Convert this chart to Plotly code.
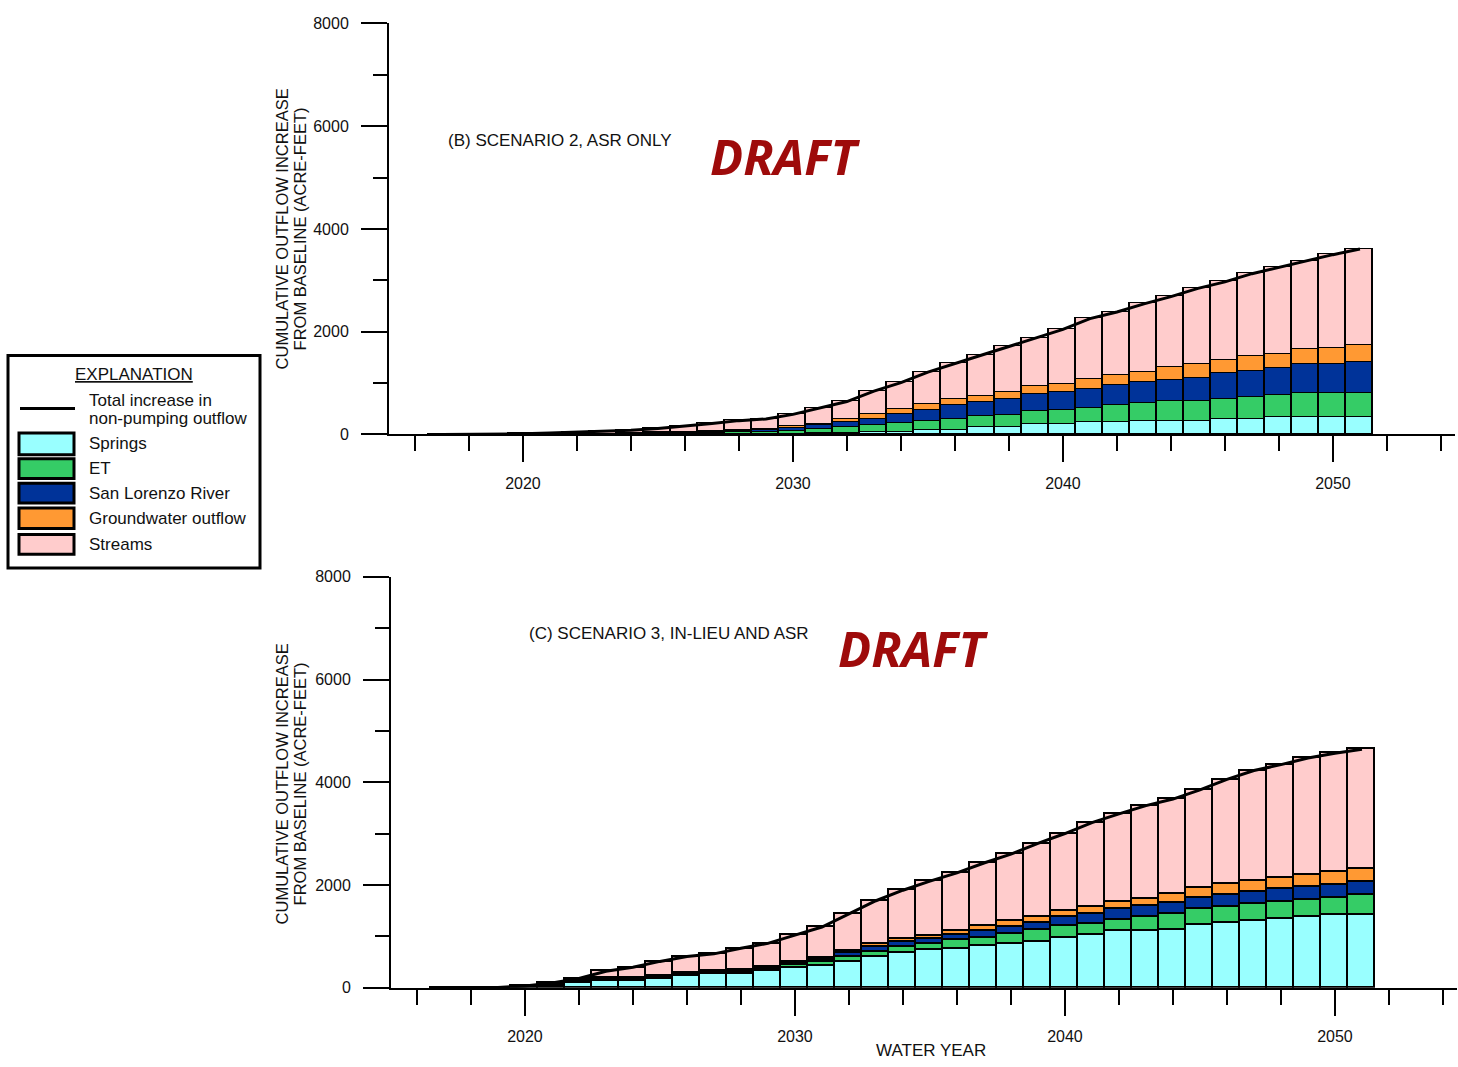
import plotly.graph_objects as go

# ---------------- data ----------------
years = list(range(2017, 2052))

# Scenario 2, ASR only (acre-feet, cumulative increase from baseline)
springs_B = [0, 0, 0, 0, 0, 0, 0, 0, 0, 0, 0, 0, 0, 0, 10, 20, 45, 45, 83, 83, 128, 128, 192, 192, 223, 223, 255, 255, 255, 300, 300, 339, 339, 339, 339]
et_B = [0, 0, 0, 0, 0, 0, 2, 5, 10, 15, 20, 30, 45, 55, 80, 110, 125, 166, 172, 217, 223, 245, 255, 281, 288, 332, 345, 383, 383, 383, 421, 427, 459, 459, 459]
slr_B = [0, 0, 0, 0, 0, 2, 3, 10, 15, 20, 25, 28, 32, 70, 75, 100, 130, 185, 211, 262, 275, 300, 330, 340, 370, 403, 409, 416, 460, 498, 505, 511, 556, 556, 594]
gw_B = [0, 0, 0, 0, 0, 0, 0, 5, 5, 5, 10, 10, 10, 30, 35, 70, 85, 90, 121, 121, 121, 145, 150, 160, 190, 195, 204, 242, 256, 256, 288, 288, 294, 326, 332]
streams_B = [0, 2, 5, 12, 25, 38, 55, 63, 85, 120, 156, 200, 213, 235, 311, 339, 458, 523, 626, 702, 798, 893, 950, 1070, 1183, 1229, 1329, 1386, 1488, 1532, 1615, 1692, 1724, 1819, 1884]

# Scenario 3, in-lieu and ASR
springs_C = [0, 0, 0, 10, 40, 96, 140, 140, 179, 224, 268, 268, 319, 396, 434, 511, 594, 683, 734, 766, 811, 849, 894, 977, 1022, 1098, 1098, 1130, 1226, 1264, 1296, 1341, 1385, 1424, 1424]
et_C = [0, 0, 0, 5, 15, 14, 20, 25, 25, 25, 28, 50, 55, 55, 60, 89, 106, 115, 115, 160, 160, 205, 224, 224, 225, 230, 275, 300, 300, 320, 332, 332, 332, 335, 377]
slr_C = [0, 0, 0, 5, 5, 10, 15, 15, 20, 25, 15, 20, 20, 30, 50, 80, 100, 102, 105, 110, 130, 135, 146, 172, 200, 210, 212, 220, 220, 230, 245, 245, 250, 250, 261]
gw_C = [0, 0, 0, 5, 5, 10, 10, 12, 15, 15, 15, 15, 20, 20, 30, 45, 55, 58, 64, 70, 100, 110, 115, 120, 121, 125, 150, 180, 200, 204, 210, 215, 240, 250, 255]
streams_C = [0, 0, 5, 5, 25, 49, 134, 204, 272, 318, 332, 413, 448, 521, 607, 712, 837, 939, 1057, 1129, 1226, 1300, 1431, 1508, 1644, 1721, 1809, 1842, 1905, 2037, 2144, 2209, 2263, 2307, 2326]

series_names = ["Springs", "ET", "San Lorenzo River", "Groundwater outflow", "Streams"]
series_colors = ["#99FFFF", "#35CC66", "#003399", "#FF9933", "#FFCCCC"]

y_ticks = [0, 2000, 4000, 6000, 8000]
x_tick_labels = [2020, 2030, 2040, 2050]

# ---------------- figure ----------------
W, H = 1458, 1067
def px(x):
    return x / W
def py(y):
    return 1 - y / H

FONT = "Liberation Sans, Arial, sans-serif"
TXT = "#111111"

fig = go.Figure()

panels = [
    ("x", "y", [springs_B, et_B, slr_B, gw_B, streams_B]),
    ("x2", "y2", [springs_C, et_C, slr_C, gw_C, streams_C]),
]
for xa, ya, comps in panels:
    for name, col, vals in zip(series_names, series_colors, comps):
        fig.add_trace(go.Bar(
            x=years, y=vals, name=name, width=1.0,
            marker=dict(color=col, line=dict(color="black", width=1.8)),
            xaxis=xa, yaxis=ya, showlegend=False,
        ))
    total = [sum(v) for v in zip(*comps)]
    fig.add_trace(go.Scatter(
        x=years, y=total, mode="lines", name="Total increase",
        line=dict(color="black", width=3), xaxis=xa, yaxis=ya, showlegend=False,
    ))

def xaxis_cfg(dom, anchor):
    return dict(
        domain=dom, anchor=anchor, range=[2015.04, 2054.52],
        showline=True, linecolor="black", linewidth=2,
        ticks="outside", tickmode="array", tickvals=x_tick_labels,
        ticktext=[str(v) for v in x_tick_labels],
        ticklen=26, tickwidth=2, tickcolor="black",
        minor=dict(ticks="outside", tickmode="linear", tick0=2016, dtick=2,
                   ticklen=15, tickwidth=2, tickcolor="black", showgrid=False),
        showgrid=False, zeroline=False, ticklabelstandoff=7,
        tickfont=dict(family=FONT, size=16, color=TXT),
    )

def yaxis_cfg(dom, anchor):
    return dict(
        domain=dom, anchor=anchor, range=[0, 8000],
        showline=True, linecolor="black", linewidth=2,
        ticks="outside", tickmode="array", tickvals=y_ticks,
        ticktext=[str(v) for v in y_ticks],
        ticklen=26, tickwidth=2, tickcolor="black",
        minor=dict(ticks="outside", tickmode="linear", tick0=0, dtick=1000,
                   ticklen=14, tickwidth=2, tickcolor="black", showgrid=False),
        showgrid=False, zeroline=False, ticklabelstandoff=9,
        tickfont=dict(family=FONT, size=16, color=TXT),
    )

fig.update_layout(
    width=W, height=H, barmode="stack", bargap=0,
    paper_bgcolor="white", plot_bgcolor="white",
    margin=dict(l=0, r=0, t=0, b=0),
    showlegend=False,
    font=dict(family=FONT, color=TXT),
    xaxis=xaxis_cfg([px(389), px(1455)], "y"),
    yaxis=yaxis_cfg([py(433.3), py(15.7)], "x"),
    xaxis2=xaxis_cfg([px(391), px(1457)], "y2"),
    yaxis2=yaxis_cfg([py(995.5), py(578)], "x2"),
)

ann = []
def text(x, y, s, size=15, xanchor="left", angle=0, color=TXT, family=FONT):
    ann.append(dict(x=px(x), y=py(y), xref="paper", yref="paper", text=s,
                    showarrow=False, xanchor=xanchor, yanchor="middle",
                    textangle=angle, font=dict(family=family, size=size, color=color)))

# panel titles and DRAFT stamps
text(446, 135, "(B) SCENARIO 2, ASR ONLY", size=17)
text(785, 150, "<b><i>DRAFT</i></b>", size=49, xanchor="center", color="#9e0b0b", family="Noto Sans")
text(527, 636, "(C) SCENARIO 3, IN-LIEU AND ASR", size=17)
text(913, 650, "<b><i>DRAFT</i></b>", size=49, xanchor="center", color="#9e0b0b", family="Noto Sans")

# y-axis titles
for yc in (225, 789):
    text(282, yc, "CUMULATIVE OUTFLOW INCREASE", size=16.5, xanchor="center", angle=-90)
    text(300, yc, "FROM BASELINE (ACRE-FEET)", size=16.5, xanchor="center", angle=-90)

text(931, 1059, "WATER YEAR", size=17, xanchor="center")

# legend box
shapes = []
shapes.append(dict(type="rect", xref="paper", yref="paper", x0=px(8), x1=px(260), y0=py(569), y1=py(353),
                   line=dict(color="black", width=3), fillcolor="white", layer="above"))
text(134, 372, "<u>EXPLANATION</u>", size=17, xanchor="center")
shapes.append(dict(type="line", xref="paper", yref="paper", x0=px(20), x1=px(75), y0=py(407), y1=py(407),
                   line=dict(color="black", width=3), layer="above"))
text(87, 399, "Total increase in", size=17)
text(87, 417, "non-pumping outflow", size=17)
sw_y = [(432, 454), (458, 478), (483, 503), (508, 529), (535, 555)]
for (y0, y1), name, col in zip(sw_y, series_names, series_colors):
    shapes.append(dict(type="rect", xref="paper", yref="paper", x0=px(19), x1=px(74), y0=py(y1), y1=py(y0),
                       line=dict(color="black", width=3), fillcolor=col, layer="above"))
    text(87, (y0 + y1) / 2, name, size=17)

fig.update_layout(annotations=ann, shapes=shapes)
fig.write_html(
    "out.html",
    config={"displayModeBar": False},
    post_script=(
        "var gd=document.getElementById('{plot_id}');"
        "gd.style.position='absolute';gd.style.top='0px';gd.style.left='0px';"
        "document.documentElement.style.margin='0';document.documentElement.style.padding='0';"
        "document.body.style.margin='0';document.body.style.padding='0';"
        "document.documentElement.style.overflow='hidden';document.body.style.overflow='hidden';"
    ),
)
